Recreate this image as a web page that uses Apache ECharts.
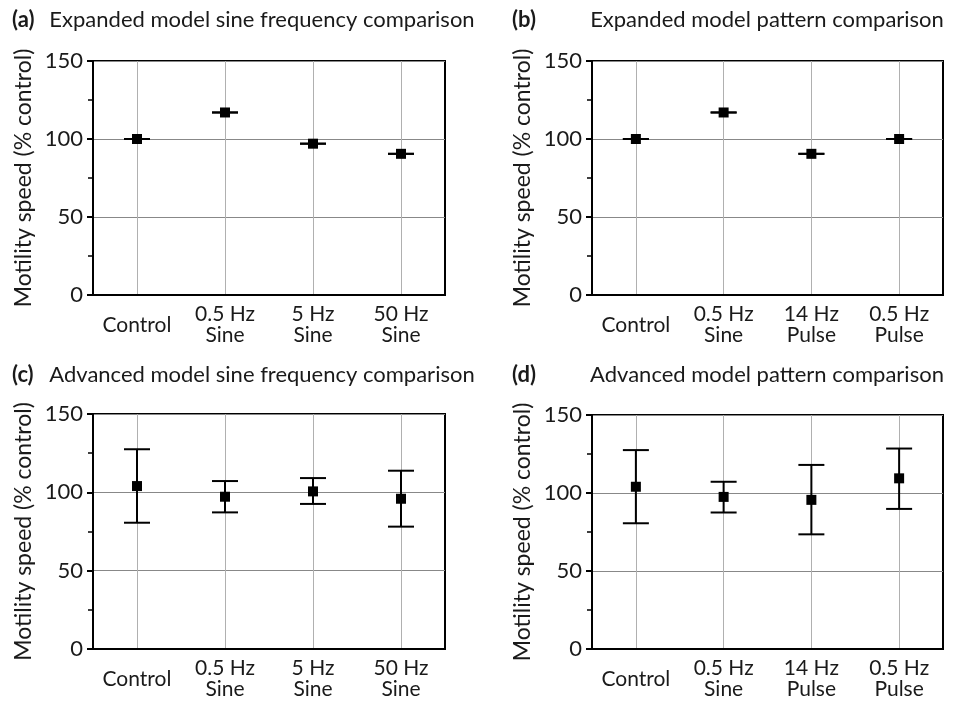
<!DOCTYPE html>
<html>
<head>
<meta charset="utf-8">
<script src="https://cdn.jsdelivr.net/npm/echarts@6/dist/echarts.min.js"></script>
<style>
  html, body { margin: 0; padding: 0; background: #fff; }
  #main { width: 962px; height: 701px; }
</style>
</head>
<body>
<div id="main"></div>
<script>
// categories
var catsSine = ['Control', '0.5 Hz\nSine', '5 Hz\nSine', '50 Hz\nSine'];
var catsPattern = ['Control', '0.5 Hz\nSine', '14 Hz\nPulse', '0.5 Hz\nPulse'];

// (a) expanded model, sine frequency
var expSineMean = [100, 117, 97, 90.5];
// (b) expanded model, pattern
var expPatternMean = [100, 117, 90.5, 100];
// (c) advanced model, sine frequency
var advSineMean = [104, 97.2, 100.6, 95.9];
var advSineLow = [80.6, 87.2, 92.6, 78.1];
var advSineHigh = [127.5, 107.2, 109.1, 113.8];
// (d) advanced model, pattern
var advPatternMean = [104, 97.5, 95.6, 109.4];
var advPatternLow = [80.6, 87.5, 73.5, 89.8];
var advPatternHigh = [127.5, 107.2, 118, 128.5];

var yTicks = [0, 50, 100, 150];

var FONT = 'Lato, "Open Sans", sans-serif';
var TXT = '#1a1a1a';

var chart = echarts.init(document.getElementById('main'));

var grids = [
  { left: 93, top: 61, width: 352, height: 234 },
  { left: 592, top: 61, width: 351, height: 234 },
  { left: 93, top: 414, width: 352, height: 235 },
  { left: 592, top: 415, width: 351, height: 234 }
];

function xAxisFor(i, cats) {
  return {
    type: 'category',
    gridIndex: i,
    data: cats,
    axisLine: { lineStyle: { color: '#000', width: 2 } },
    axisTick: { alignWithLabel: true, length: 6, lineStyle: { color: '#000', width: 2 } },
    splitLine: { show: true, alignWithLabel: true, lineStyle: { color: '#b0b0b0', width: 1 } },
    axisLabel: {
      color: TXT, fontFamily: FONT, fontSize: 21, lineHeight: 21,
      margin: 30, verticalAlign: 'middle', interval: 0
    }
  };
}

function yAxisFor(i) {
  return {
    type: 'value',
    gridIndex: i,
    min: yTicks[0],
    max: yTicks[yTicks.length - 1],
    interval: 50,
    name: 'Motility speed (% control)',
    nameLocation: 'middle',
    nameGap: 58,
    nameTextStyle: { color: TXT, fontFamily: FONT, fontSize: 23 },
    axisLine: { show: true, lineStyle: { color: '#000', width: 2 } },
    axisTick: { show: true, length: 6, lineStyle: { color: '#000', width: 2 } },
    minorTick: { show: true, splitNumber: 2, length: 5, lineStyle: { color: '#000', width: 1.5 } },
    splitLine: { show: true, lineStyle: { color: '#888', width: 1 } },
    axisLabel: { color: TXT, fontFamily: FONT, fontSize: 22, margin: 10 }
  };
}

function errData(mean, low, high) {
  return mean.map(function (m, i) {
    return [i, m, low ? low[i] : m, high ? high[i] : m];
  });
}

function renderErr(params, api) {
  var x = api.value(0);
  var pm = api.coord([x, api.value(1)]);
  var pl = api.coord([x, api.value(2)]);
  var ph = api.coord([x, api.value(3)]);
  var cap = 13, s = 10;
  var ls = { stroke: '#000', lineWidth: 2 };
  return {
    type: 'group',
    children: [
      { type: 'line', shape: { x1: pm[0], y1: ph[1], x2: pm[0], y2: pl[1] }, style: ls },
      { type: 'line', shape: { x1: pm[0] - cap, y1: ph[1], x2: pm[0] + cap, y2: ph[1] }, style: ls },
      { type: 'line', shape: { x1: pm[0] - cap, y1: pl[1], x2: pm[0] + cap, y2: pl[1] }, style: ls },
      { type: 'rect', shape: { x: pm[0] - s / 2, y: pm[1] - s / 2, width: s, height: s }, style: { fill: '#000' } }
    ]
  };
}

function errSeries(i, data) {
  return {
    type: 'custom',
    xAxisIndex: i,
    yAxisIndex: i,
    renderItem: renderErr,
    data: data,
    clip: false,
    z: 10
  };
}

function label(x, y, text, bold, align) {
  return {
    type: 'text', x: x, y: y,
    style: {
      text: text, fill: TXT, fontFamily: FONT, fontSize: 22,
      fontWeight: bold ? 'bold' : 'normal',
      textAlign: align || 'left', textVerticalAlign: 'middle'
    }
  };
}

var option = {
  backgroundColor: '#fff',
  animation: false,
  grid: grids.map(function (g) {
    return Object.assign({ show: true, borderColor: '#000', borderWidth: 2, backgroundColor: 'transparent' }, g);
  }),
  xAxis: [
    xAxisFor(0, catsSine),
    xAxisFor(1, catsPattern),
    xAxisFor(2, catsSine),
    xAxisFor(3, catsPattern)
  ],
  yAxis: [yAxisFor(0), yAxisFor(1), yAxisFor(2), yAxisFor(3)],
  graphic: [
    label(12, 20, '(a)', true),
    label(262, 20, 'Expanded model sine frequency comparison', false, 'center'),
    label(512, 20, '(b)', true),
    label(767, 20, 'Expanded model pattern comparison', false, 'center'),
    label(12, 375, '(c)', true),
    label(262, 375, 'Advanced model sine frequency comparison', false, 'center'),
    label(512, 375, '(d)', true),
    label(767, 375, 'Advanced model pattern comparison', false, 'center')
  ],
  series: [
    errSeries(0, errData(expSineMean)),
    errSeries(1, errData(expPatternMean)),
    errSeries(2, errData(advSineMean, advSineLow, advSineHigh)),
    errSeries(3, errData(advPatternMean, advPatternLow, advPatternHigh))
  ]
};

chart.setOption(option);
</script>
</body>
</html>
